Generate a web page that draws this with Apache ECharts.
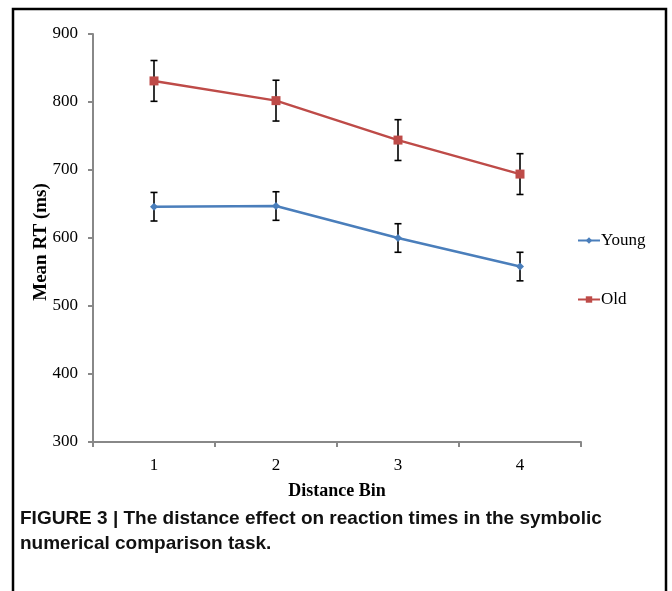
<!DOCTYPE html>
<html>
<head>
<meta charset="utf-8">
<script src="https://cdn.jsdelivr.net/npm/echarts@6/dist/echarts.min.js"></script>
<style>
  html, body { margin: 0; padding: 0; background: #fff; }
  #chart { width: 672px; height: 591px; }
</style>
</head>
<body>
<div id="chart"></div>
<script>
// distance bins on the x axis
const bins = ['1', '2', '3', '4'];

// mean RT (ms) per group
const youngMean = [646, 647, 600, 558];
const oldMean = [831, 802, 744, 694];

// error bar half widths (ms)
const youngErr = [21, 21, 21, 21];
const oldErr = [30, 30, 30, 30];

const serif = 'Liberation Serif, Times New Roman, serif';

// builds [index, low, high] rows for the custom error bar series
function barras(media, erro) {
    return media.map((m, i) => [i, m - erro[i], m + erro[i]]);
}

function desenhaErro(params, api) {
    const x = api.value(0);
    const baixo = api.coord([x, api.value(1)]);
    const alto = api.coord([x, api.value(2)]);
    const meia = 3.5;
    const estilo = { stroke: '#000', lineWidth: 1.6 };
    return {
        type: 'group',
        children: [
            { type: 'line', shape: { x1: alto[0], y1: alto[1], x2: baixo[0], y2: baixo[1] }, style: estilo },
            { type: 'line', shape: { x1: alto[0] - meia, y1: alto[1], x2: alto[0] + meia, y2: alto[1] }, style: estilo },
            { type: 'line', shape: { x1: baixo[0] - meia, y1: baixo[1], x2: baixo[0] + meia, y2: baixo[1] }, style: estilo }
        ]
    };
}

const chart = echarts.init(document.getElementById('chart'));

const option = {
    animation: false,
    backgroundColor: '#fff',
    grid: { left: 93, right: 91, top: 34, bottom: 149 },
    legend: {
        orient: 'vertical',
        left: 572,
        top: 227,
        itemGap: 42,
        itemWidth: 22,
        itemHeight: 8,
        textStyle: { fontFamily: serif, fontSize: 17, color: '#000', padding: [0, 0, 0, -4] },
        data: ['Young', 'Old']
    },
    xAxis: {
        type: 'category',
        data: bins,
        name: 'Distance Bin',
        nameLocation: 'middle',
        nameGap: 40,
        nameTextStyle: { fontFamily: serif, fontSize: 18, fontWeight: 'bold', color: '#000' },
        axisLine: { lineStyle: { color: '#888', width: 2 } },
        axisTick: { show: true, length: 5, lineStyle: { color: '#888', width: 2 } },
        axisLabel: { fontFamily: serif, fontSize: 17, color: '#000', margin: 15 },
        splitLine: { show: false }
    },
    yAxis: {
        type: 'value',
        min: 300,
        max: 900,
        interval: 100,
        name: 'Mean RT (ms)',
        nameLocation: 'middle',
        nameGap: 42,
        nameMoveOverlap: false,
        nameTextStyle: { fontFamily: serif, fontSize: 19, fontWeight: 'bold', color: '#000', padding: [0, 8, 0, 0] },
        axisLine: { show: true, lineStyle: { color: '#888', width: 2 } },
        axisTick: { show: true, length: 5, lineStyle: { color: '#888', width: 2 } },
        axisLabel: { fontFamily: serif, fontSize: 17, color: '#000', margin: 15 },
        splitLine: { show: false }
    },
    graphic: [
        {
            type: 'rect',
            shape: { x: 13, y: 9, width: 653, height: 620 },
            style: { fill: 'none', stroke: '#000', lineWidth: 2.5 }
        },
        {
            type: 'text',
            left: 20,
            top: 506,
            style: {
                text: 'FIGURE 3 | The distance effect on reaction times in the symbolic\nnumerical comparison task.',
                font: 'bold 19px "Liberation Sans", Arial, sans-serif',
                lineHeight: 25,
                fill: '#111'
            }
        }
    ],
    series: [
        {
            name: 'Young',
            type: 'line',
            data: youngMean,
            symbol: 'diamond',
            symbolSize: 8,
            itemStyle: { color: '#4a7ebb' },
            lineStyle: { color: '#4a7ebb', width: 2.5 },
            z: 3
        },
        {
            name: 'Old',
            type: 'line',
            data: oldMean,
            symbol: 'rect',
            symbolSize: 9,
            itemStyle: { color: '#be4b48' },
            lineStyle: { color: '#be4b48', width: 2.5 },
            z: 3
        },
        {
            type: 'custom',
            renderItem: desenhaErro,
            data: barras(youngMean, youngErr),
            encode: { x: 0, y: [1, 2] },
            z: 2
        },
        {
            type: 'custom',
            renderItem: desenhaErro,
            data: barras(oldMean, oldErr),
            encode: { x: 0, y: [1, 2] },
            z: 2
        }
    ]
};

chart.setOption(option);
</script>
</body>
</html>
